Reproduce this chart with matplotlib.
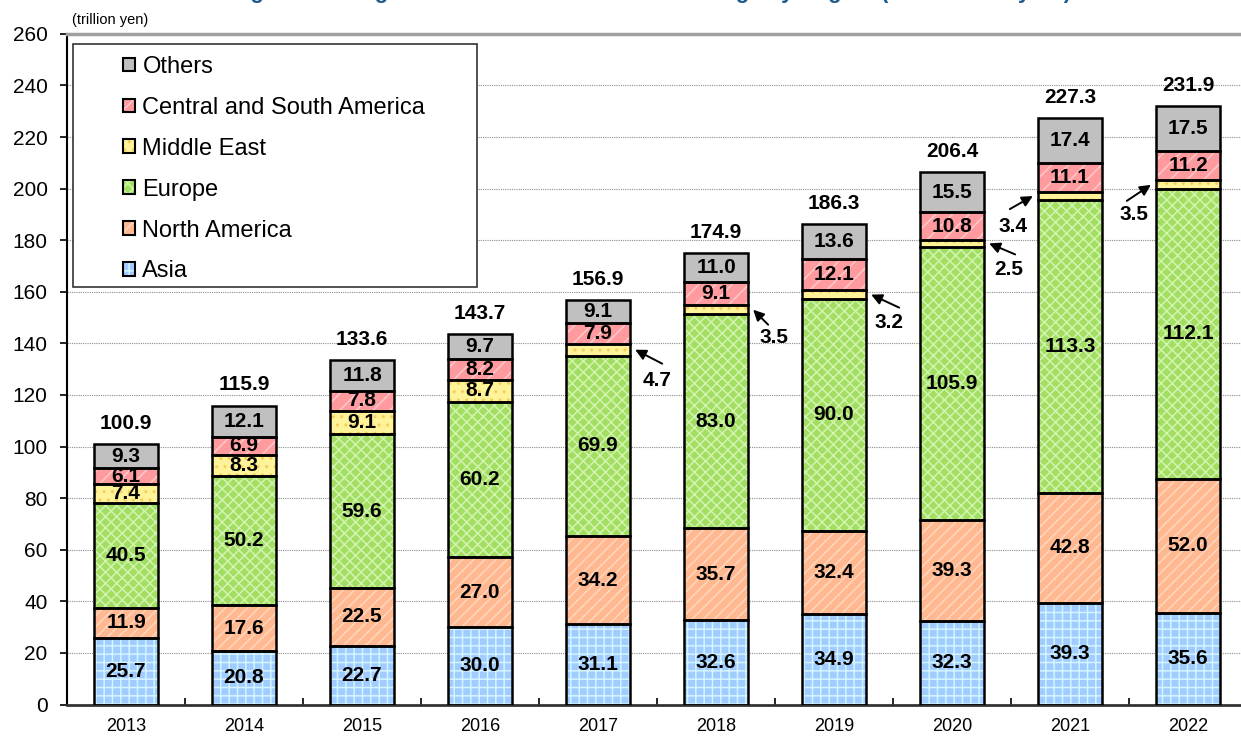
import numpy as np
import matplotlib
matplotlib.use('Agg')
import matplotlib.pyplot as plt
from matplotlib.patches import Patch, Rectangle
from matplotlib.legend_handler import HandlerTuple

plt.rcParams['font.family'] = ['Liberation Sans', 'DejaVu Sans']
plt.rcParams['hatch.linewidth'] = 1.1

# data (trillion yen)
years = ['2013', '2014', '2015', '2016', '2017', '2018', '2019', '2020', '2021', '2022']
asia = [25.7, 20.8, 22.7, 30.0, 31.1, 32.6, 34.9, 32.3, 39.3, 35.6]
north_america = [11.9, 17.6, 22.5, 27.0, 34.2, 35.7, 32.4, 39.3, 42.8, 52.0]
europe = [40.5, 50.2, 59.6, 60.2, 69.9, 83.0, 90.0, 105.9, 113.3, 112.1]
middle_east = [7.4, 8.3, 9.1, 8.7, 4.7, 3.5, 3.2, 2.5, 3.4, 3.5]
cs_america = [6.1, 6.9, 7.8, 8.2, 7.9, 9.1, 12.1, 10.8, 11.1, 11.2]
others = [9.3, 12.1, 11.8, 9.7, 9.1, 11.0, 13.6, 15.5, 17.4, 17.5]
totals = [100.9, 115.9, 133.6, 143.7, 156.9, 174.9, 186.3, 206.4, 227.3, 231.9]

# name, values, face colour, hatch colour, hatch
series = [
    ('Asia', asia, '#A0CCFF', '#D4F4FF', '++'),
    ('North America', north_america, '#FFB890', '#FFD8C0', '///'),
    ('Europe', europe, '#A2DE62', '#D2F4AE', 'xxx'),
    ('Middle East', middle_east, '#FFF39A', '#F5D060', '..'),
    ('Central and South America', cs_america, '#FF9A9E', '#FFCACA', '//'),
    ('Others', others, '#C0C0C0', '#C0C0C0', ''),
]

fig = plt.figure(figsize=(12.41, 7.37), dpi=100)
ax = fig.add_axes([67 / 1241, 32.5 / 737, 1180 / 1241, 0.910])

x = np.arange(len(years))
width = 0.55
bottom = np.zeros(len(years))
handles = []
for name, vals, color, hcolor, hatch in series:
    vals = np.array(vals)
    ax.bar(x, vals, width, bottom=bottom, color=color, edgecolor=hcolor,
           linewidth=0, hatch=hatch, zorder=2)
    ax.bar(x, vals, width, bottom=bottom, fill=False, edgecolor='black',
           linewidth=1.8, zorder=3)
    h = (Patch(facecolor=color, edgecolor=hcolor, linewidth=0, hatch=hatch),
         Patch(fill=False, edgecolor='black', linewidth=1.5))
    handles.append((h, name))
    if name == 'Middle East':
        me_bottom = bottom.copy()
        inside = x < 4
    else:
        inside = np.ones(len(x), dtype=bool)
    for xi, b, v, ok in zip(x, bottom, vals, inside):
        if ok:
            ax.text(xi, b + v / 2, f'{v:.1f}', ha='center', va='center',
                    fontsize=15, fontweight='bold', zorder=4)
    bottom = bottom + vals

# small Middle East values pointed at with arrows
# side of bar, arrow tail and label offsets from the arrow tip (px)
px = 0.72
arrow_offsets = {
    4: (1, (27, -14), (22, -31)),
    5: (1, (15, -15), (21, -28)),
    6: (1, (28, -13), (18, -28)),
    7: (1, (26, -11), (20, -26)),
    8: (-1, (-23, -13), (-20, -30)),
    9: (-1, (-24, -16), (-17, -30)),
}
for i, (side, tail, txt) in arrow_offsets.items():
    tip = (x[i] + side * (width / 2 + 0.04), me_bottom[i] + middle_east[i] / 2)
    ax.annotate('', xy=tip, xytext=(tail[0] * px, tail[1] * px),
                textcoords='offset points',
                arrowprops=dict(arrowstyle='-|>', color='black', lw=1.4,
                                mutation_scale=16, shrinkA=0, shrinkB=0),
                zorder=5)
    ax.annotate(f'{middle_east[i]:.1f}', xy=tip, xytext=(txt[0] * px, txt[1] * px),
                textcoords='offset points', ha='center', va='center',
                fontsize=15, fontweight='bold', zorder=5)

# totals above bars
for xi, t in zip(x, totals):
    ax.annotate(f'{t:.1f}', xy=(xi, t), xytext=(0, 8), textcoords='offset points',
                ha='center', va='bottom', fontsize=15, fontweight='bold')

ax.set_xlim(-0.5, 9.5)
ax.set_ylim(0, 260)
ax.set_yticks(np.arange(0, 261, 20))
ax.set_xticks(x)
ax.set_xticklabels(years)
ax.set_xticks(x[:-1] + 0.5, minor=True)
ax.tick_params(axis='x', which='major', length=0, labelsize=13, pad=10)
ax.tick_params(axis='x', which='minor', length=5, direction='in', width=1.2)
ax.tick_params(axis='y', length=5, width=1.2, direction='out', labelsize=15, pad=9)
for yv in np.arange(20, 260, 20):
    ax.axhline(yv, color='#8C8C8C', linestyle=(0, (1, 1)), linewidth=0.8, zorder=1)

ax.spines['right'].set_visible(False)
ax.spines['top'].set_color('#A0A0A0')
ax.spines['top'].set_linewidth(2.5)
ax.spines['left'].set_linewidth(1.5)
ax.spines['bottom'].set_linewidth(2)
ax.spines['bottom'].set_color('#333333')

# legend box
ax.add_patch(Rectangle((0.0051, 0.6224), 0.3424, 0.3622, transform=ax.transAxes,
                       facecolor='white', edgecolor='#333333', linewidth=1.2, zorder=6))
hs = [h for h, n in handles][::-1]
ns = [n for h, n in handles][::-1]
leg = ax.legend(hs, ns, handler_map={tuple: HandlerTuple(ndivide=1)},
                loc='upper left', bbox_to_anchor=(0.0475, 0.967), borderaxespad=0,
                borderpad=0, frameon=False, fontsize=17, handlelength=0.52,
                handleheight=0.52, handletextpad=0.3, labelspacing=0.8)
leg.set_zorder(7)

fig.text(72 / 1241, 1 - 20 / 737, '(trillion yen)', fontsize=10.5, va='center', ha='left')
fig.text(0.51, 1 + 2 / 737,
         'Changes in Foreign Direct Investment Stock Holdings by Region (end of each year)',
         fontsize=16, fontweight='bold', color='#1F5A8C', ha='center', va='baseline')

fig.savefig('out.png', dpi=100)
